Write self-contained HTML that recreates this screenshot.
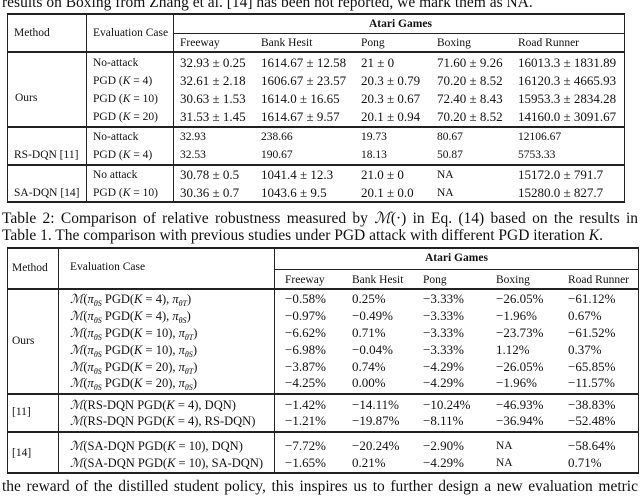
<!DOCTYPE html>
<html><head><meta charset="utf-8">
<style>
body{margin:0;width:640px;height:492px;overflow:hidden;background:#fff;position:relative;font-family:"Liberation Serif","DejaVu Serif",serif;color:#111}
.t{position:absolute;white-space:nowrap;line-height:14px;font-size:11.5px}
.n{font-size:13px}
.m{font-size:12.5px}
.b{font-weight:bold}
.l{position:absolute;background:#222}
i{font-style:italic}
.cap{position:absolute;left:2px;width:636px;font-size:15.5px;line-height:18px;white-space:nowrap;text-align:justify;text-align-last:justify}
sub{font-size:8px;vertical-align:-3px;line-height:0}
</style></head><body>
<div class="cap" style="top:-6px;text-align-last:left">results on Boxing from Zhang et al. [14] has been not reported, we mark them as NA.</div>

<div>
<div class="l" style="left:7px;top:13px;width:618px;height:2px"></div>
<div class="l" style="left:173px;top:33px;width:451px;height:1px"></div>
<div class="l" style="left:7px;top:51px;width:618px;height:2px"></div>
<div class="l" style="left:7px;top:126px;width:618px;height:2px"></div>
<div class="l" style="left:7px;top:164px;width:618px;height:2px"></div>
<div class="l" style="left:7px;top:201px;width:618px;height:2px"></div>
<div class="l" style="left:7px;top:13px;width:1px;height:190px"></div>
<div class="l" style="left:86px;top:13px;width:1px;height:190px"></div>
<div class="l" style="left:173px;top:13px;width:1px;height:190px"></div>
<div class="l" style="left:624px;top:13px;width:1px;height:190px"></div>

<span class="t" style="left:14px;top:26px">Method</span>
<span class="t" style="left:93px;top:26px">Evaluation Case</span>
<span class="t b" style="left:369px;top:17px">Atari Games</span>
<span class="t" style="left:180px;top:36px">Freeway</span>
<span class="t" style="left:261px;top:36px">Bank Hesit</span>
<span class="t" style="left:361px;top:36px">Pong</span>
<span class="t" style="left:437px;top:36px">Boxing</span>
<span class="t" style="left:518px;top:36px">Road Runner</span>

<span class="t" style="left:15px;top:91px">Ours</span>
<span class="t" style="left:93px;top:56px">No-attack</span>
<span class="t" style="left:93px;top:74px">PGD (<i>K</i> = 4)</span>
<span class="t" style="left:93px;top:92px">PGD (<i>K</i> = 10)</span>
<span class="t" style="left:93px;top:110px">PGD (<i>K</i> = 20)</span>
<span class="t" style="left:14px;top:148px">RS-DQN [11]</span>
<span class="t" style="left:93px;top:130px">No-attack</span>
<span class="t" style="left:93px;top:148px">PGD (<i>K</i> = 4)</span>
<span class="t" style="left:14px;top:186px">SA-DQN [14]</span>
<span class="t" style="left:93px;top:168px">No attack</span>
<span class="t" style="left:93px;top:186px">PGD (<i>K</i> = 10)</span>

<span class="t n" style="left:180px;top:56px">32.93 ± 0.25</span>
<span class="t n" style="left:261px;top:56px">1614.67 ± 12.58</span>
<span class="t n" style="left:361px;top:56px">21 ± 0</span>
<span class="t n" style="left:437px;top:56px">71.60 ± 9.26</span>
<span class="t n" style="left:518px;top:56px">16013.3 ± 1831.89</span>
<span class="t n" style="left:180px;top:74px">32.61 ± 2.18</span>
<span class="t n" style="left:261px;top:74px">1606.67 ± 23.57</span>
<span class="t n" style="left:361px;top:74px">20.3 ± 0.79</span>
<span class="t n" style="left:437px;top:74px">70.20 ± 8.52</span>
<span class="t n" style="left:518px;top:74px">16120.3 ± 4665.93</span>
<span class="t n" style="left:180px;top:92px">30.63 ± 1.53</span>
<span class="t n" style="left:261px;top:92px">1614.0 ± 16.65</span>
<span class="t n" style="left:361px;top:92px">20.3 ± 0.67</span>
<span class="t n" style="left:437px;top:92px">72.40 ± 8.43</span>
<span class="t n" style="left:518px;top:92px">15953.3 ± 2834.28</span>
<span class="t n" style="left:180px;top:110px">31.53 ± 1.45</span>
<span class="t n" style="left:261px;top:110px">1614.67 ± 9.57</span>
<span class="t n" style="left:361px;top:110px">20.1 ± 0.94</span>
<span class="t n" style="left:437px;top:110px">70.20 ± 8.52</span>
<span class="t n" style="left:518px;top:110px">14160.0 ± 3091.67</span>
<span class="t" style="left:180px;top:130px">32.93</span>
<span class="t" style="left:261px;top:130px">238.66</span>
<span class="t" style="left:361px;top:130px">19.73</span>
<span class="t" style="left:437px;top:130px">80.67</span>
<span class="t" style="left:518px;top:130px">12106.67</span>
<span class="t" style="left:180px;top:148px">32.53</span>
<span class="t" style="left:261px;top:148px">190.67</span>
<span class="t" style="left:361px;top:148px">18.13</span>
<span class="t" style="left:437px;top:148px">50.87</span>
<span class="t" style="left:518px;top:148px">5753.33</span>
<span class="t n" style="left:180px;top:168px">30.78 ± 0.5</span>
<span class="t n" style="left:261px;top:168px">1041.4 ± 12.3</span>
<span class="t n" style="left:361px;top:168px">21.0 ± 0</span>
<span class="t" style="left:437px;top:168px">NA</span>
<span class="t n" style="left:518px;top:168px">15172.0 ± 791.7</span>
<span class="t n" style="left:180px;top:186px">30.36 ± 0.7</span>
<span class="t n" style="left:261px;top:186px">1043.6 ± 9.5</span>
<span class="t n" style="left:361px;top:186px">20.1 ± 0.0</span>
<span class="t" style="left:437px;top:186px">NA</span>
<span class="t n" style="left:518px;top:186px">15280.0 ± 827.7</span>
</div>

<div class="cap" style="top:210px">Table 2: Comparison of relative robustness measured by <i>ℳ</i>(·) in Eq. (14) based on the results in</div>
<div class="cap" style="top:227px;text-align-last:left">Table 1. The comparison with previous studies under PGD attack with different PGD iteration <i>K</i>.</div>

<div>
<div class="l" style="left:7px;top:247px;width:632px;height:2px"></div>
<div class="l" style="left:274px;top:269px;width:364px;height:1px"></div>
<div class="l" style="left:7px;top:288px;width:632px;height:2px"></div>
<div class="l" style="left:7px;top:393px;width:632px;height:2px"></div>
<div class="l" style="left:7px;top:431px;width:632px;height:2px"></div>
<div class="l" style="left:7px;top:472px;width:632px;height:2px"></div>
<div class="l" style="left:7px;top:247px;width:1px;height:227px"></div>
<div class="l" style="left:58px;top:247px;width:1px;height:227px"></div>
<div class="l" style="left:274px;top:247px;width:1px;height:227px"></div>
<div class="l" style="left:638px;top:247px;width:1px;height:227px"></div>

<span class="t" style="left:12px;top:261px">Method</span>
<span class="t" style="left:70px;top:260px">Evaluation Case</span>
<span class="t b" style="left:425px;top:251px">Atari Games</span>
<span class="t" style="left:285px;top:273px">Freeway</span>
<span class="t" style="left:352px;top:273px">Bank Hesit</span>
<span class="t" style="left:423px;top:273px">Pong</span>
<span class="t" style="left:496px;top:273px">Boxing</span>
<span class="t" style="left:568px;top:273px">Road Runner</span>

<span class="t" style="left:12px;top:334px">Ours</span>
<span class="t" style="left:12px;top:405px">[11]</span>
<span class="t" style="left:12px;top:446px">[14]</span>

<span class="t m" style="left:70px;top:292px"><i>ℳ</i>(<i>π</i><sub><i>θS</i></sub> PGD(<i>K</i> = 4), <i>π</i><sub><i>θT</i></sub>)</span>
<span class="t m" style="left:70px;top:309px"><i>ℳ</i>(<i>π</i><sub><i>θS</i></sub> PGD(<i>K</i> = 4), <i>π</i><sub><i>θS</i></sub>)</span>
<span class="t m" style="left:70px;top:326px"><i>ℳ</i>(<i>π</i><sub><i>θS</i></sub> PGD(<i>K</i> = 10), <i>π</i><sub><i>θT</i></sub>)</span>
<span class="t m" style="left:70px;top:343px"><i>ℳ</i>(<i>π</i><sub><i>θS</i></sub> PGD(<i>K</i> = 10), <i>π</i><sub><i>θS</i></sub>)</span>
<span class="t m" style="left:70px;top:360px"><i>ℳ</i>(<i>π</i><sub><i>θS</i></sub> PGD(<i>K</i> = 20), <i>π</i><sub><i>θT</i></sub>)</span>
<span class="t m" style="left:70px;top:376px"><i>ℳ</i>(<i>π</i><sub><i>θS</i></sub> PGD(<i>K</i> = 20), <i>π</i><sub><i>θS</i></sub>)</span>
<span class="t m" style="left:70px;top:398px"><i>ℳ</i>(RS-DQN PGD(<i>K</i> = 4), DQN)</span>
<span class="t m" style="left:70px;top:414px"><i>ℳ</i>(RS-DQN PGD(<i>K</i> = 4), RS-DQN)</span>
<span class="t m" style="left:70px;top:439px"><i>ℳ</i>(SA-DQN PGD(<i>K</i> = 10), DQN)</span>
<span class="t m" style="left:70px;top:456px"><i>ℳ</i>(SA-DQN PGD(<i>K</i> = 10), SA-DQN)</span>

<span class="t n" style="left:285px;top:292px">−0.58%</span>
<span class="t n" style="left:352px;top:292px">0.25%</span>
<span class="t n" style="left:423px;top:292px">−3.33%</span>
<span class="t n" style="left:496px;top:292px">−26.05%</span>
<span class="t n" style="left:568px;top:292px">−61.12%</span>
<span class="t n" style="left:285px;top:309px">−0.97%</span>
<span class="t n" style="left:352px;top:309px">−0.49%</span>
<span class="t n" style="left:423px;top:309px">−3.33%</span>
<span class="t n" style="left:496px;top:309px">−1.96%</span>
<span class="t n" style="left:568px;top:309px">0.67%</span>
<span class="t n" style="left:285px;top:326px">−6.62%</span>
<span class="t n" style="left:352px;top:326px">0.71%</span>
<span class="t n" style="left:423px;top:326px">−3.33%</span>
<span class="t n" style="left:496px;top:326px">−23.73%</span>
<span class="t n" style="left:568px;top:326px">−61.52%</span>
<span class="t n" style="left:285px;top:343px">−6.98%</span>
<span class="t n" style="left:352px;top:343px">−0.04%</span>
<span class="t n" style="left:423px;top:343px">−3.33%</span>
<span class="t n" style="left:496px;top:343px">1.12%</span>
<span class="t n" style="left:568px;top:343px">0.37%</span>
<span class="t n" style="left:285px;top:360px">−3.87%</span>
<span class="t n" style="left:352px;top:360px">0.74%</span>
<span class="t n" style="left:423px;top:360px">−4.29%</span>
<span class="t n" style="left:496px;top:360px">−26.05%</span>
<span class="t n" style="left:568px;top:360px">−65.85%</span>
<span class="t n" style="left:285px;top:376px">−4.25%</span>
<span class="t n" style="left:352px;top:376px">0.00%</span>
<span class="t n" style="left:423px;top:376px">−4.29%</span>
<span class="t n" style="left:496px;top:376px">−1.96%</span>
<span class="t n" style="left:568px;top:376px">−11.57%</span>
<span class="t n" style="left:285px;top:398px">−1.42%</span>
<span class="t n" style="left:352px;top:398px">−14.11%</span>
<span class="t n" style="left:423px;top:398px">−10.24%</span>
<span class="t n" style="left:496px;top:398px">−46.93%</span>
<span class="t n" style="left:568px;top:398px">−38.83%</span>
<span class="t n" style="left:285px;top:414px">−1.21%</span>
<span class="t n" style="left:352px;top:414px">−19.87%</span>
<span class="t n" style="left:423px;top:414px">−8.11%</span>
<span class="t n" style="left:496px;top:414px">−36.94%</span>
<span class="t n" style="left:568px;top:414px">−52.48%</span>
<span class="t n" style="left:285px;top:439px">−7.72%</span>
<span class="t n" style="left:352px;top:439px">−20.24%</span>
<span class="t n" style="left:423px;top:439px">−2.90%</span>
<span class="t" style="left:496px;top:439px">NA</span>
<span class="t n" style="left:568px;top:439px">−58.64%</span>
<span class="t n" style="left:285px;top:456px">−1.65%</span>
<span class="t n" style="left:352px;top:456px">0.21%</span>
<span class="t n" style="left:423px;top:456px">−4.29%</span>
<span class="t" style="left:496px;top:456px">NA</span>
<span class="t n" style="left:568px;top:456px">0.71%</span>
</div>

<div class="cap" style="top:478px">the reward of the distilled student policy, this inspires us to further design a new evaluation metric</div>
</body></html>
